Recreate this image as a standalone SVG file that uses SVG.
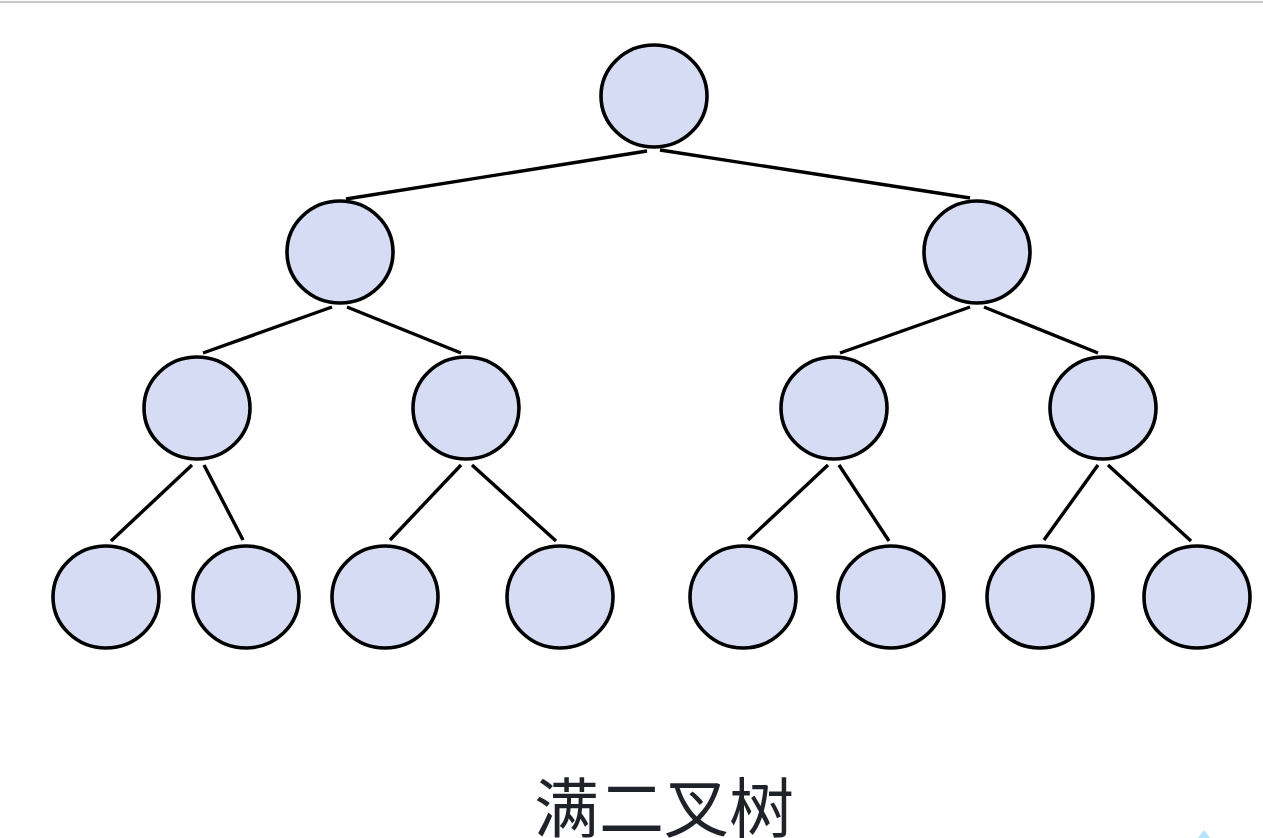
<svg xmlns="http://www.w3.org/2000/svg" width="1263" height="838" viewBox="0 0 1263 838">
<style>
.n{fill:#d6dcf3;stroke:#000;stroke-width:3.6}
.e line{stroke:#000;stroke-width:3.4;stroke-linecap:butt}
.t{font-family:"Noto Sans CJK SC","Noto Sans",sans-serif;font-size:65px;fill:#1f2329}
</style>
<rect x="0" y="0" width="1263" height="838" fill="#fff"/>
<rect x="0" y="1" width="1263" height="2" fill="#c8c8c8"/>
<g id="edges" class="e">
<line x1="647" y1="151" x2="346" y2="199"/>
<line x1="660" y1="150" x2="970" y2="198"/>
<line x1="332" y1="307" x2="203" y2="353"/>
<line x1="347" y1="307" x2="461" y2="353"/>
<line x1="970" y1="307" x2="840" y2="353"/>
<line x1="984" y1="307" x2="1098" y2="353"/>
<line x1="192" y1="465" x2="111" y2="541"/>
<line x1="204" y1="465" x2="243" y2="540"/>
<line x1="461" y1="465" x2="390" y2="540"/>
<line x1="472" y1="465" x2="556" y2="541"/>
<line x1="828" y1="465" x2="748" y2="540"/>
<line x1="839" y1="465" x2="889" y2="541"/>
<line x1="1098" y1="465" x2="1044" y2="540"/>
<line x1="1108" y1="465" x2="1191" y2="541"/>
</g>
<g id="n1"><ellipse class="n" cx="654" cy="96" rx="53" ry="51"/></g>
<g id="n2"><ellipse class="n" cx="340" cy="252" rx="53" ry="51"/></g>
<g id="n3"><ellipse class="n" cx="977" cy="252" rx="53" ry="51"/></g>
<g id="n4"><ellipse class="n" cx="197" cy="408" rx="53" ry="51"/></g>
<g id="n5"><ellipse class="n" cx="466" cy="408" rx="53" ry="51"/></g>
<g id="n6"><ellipse class="n" cx="834" cy="408" rx="53" ry="51"/></g>
<g id="n7"><ellipse class="n" cx="1103" cy="408" rx="53" ry="51"/></g>
<g id="n8"><ellipse class="n" cx="106" cy="597" rx="53" ry="51"/></g>
<g id="n9"><ellipse class="n" cx="246" cy="597" rx="53" ry="51"/></g>
<g id="n10"><ellipse class="n" cx="385" cy="597" rx="53" ry="51"/></g>
<g id="n11"><ellipse class="n" cx="560" cy="597" rx="53" ry="51"/></g>
<g id="n12"><ellipse class="n" cx="743" cy="597" rx="53" ry="51"/></g>
<g id="n13"><ellipse class="n" cx="891" cy="597" rx="53" ry="51"/></g>
<g id="n14"><ellipse class="n" cx="1040" cy="597" rx="53" ry="51"/></g>
<g id="n15"><ellipse class="n" cx="1197" cy="597" rx="53" ry="51"/></g>
<g id="title"><text class="t" x="664" y="832" text-anchor="middle">满二叉树</text></g>
<polygon points="1203,831 1198,838 1210,838 1205,831" fill="#b3e5fc"/>
</svg>
